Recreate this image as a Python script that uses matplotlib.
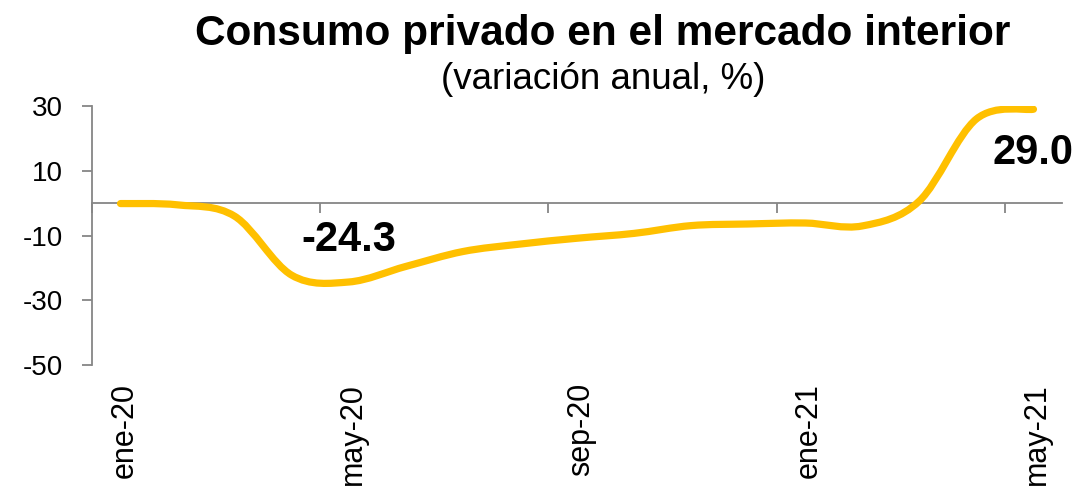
import matplotlib.pyplot as plt
import numpy as np
from matplotlib.path import Path
from matplotlib.patches import PathPatch

plt.rcParams['font.family'] = ['Liberation Sans', 'DejaVu Sans']
plt.rcParams['axes.unicode_minus'] = False

# monthly year-on-year change
meses = ["ene-20", "feb-20", "mar-20", "abr-20", "may-20", "jun-20", "jul-20", "ago-20",
         "sep-20", "oct-20", "nov-20", "dic-20", "ene-21", "feb-21", "mar-21", "abr-21", "may-21"]
consumo = [-0.1, -0.5, -4.0, -22.2, -24.3, -19.5, -14.9, -12.6,
           -10.8, -9.3, -6.9, -6.4, -6.1, -7.0, 0.7, 26.0, 29.0]
yticks = [-50, -30, -10, 10, 30]
label_idx = [4, 16]      # points with a value label
label_off = [42, -44]    # pixels above (+) / below (-) the point

x = np.arange(len(meses))
y = np.array(consumo)

GREY = "#868686"
GOLD = "#FFC000"


def smooth_path(xs, ys):
    # excel-style smoothed line: bezier segments through every point
    pts = np.column_stack([xs, ys])
    n = len(pts)
    verts = [pts[0]]
    codes = [Path.MOVETO]
    for i in range(n - 1):
        p0 = pts[i - 1] if i > 0 else pts[i]
        p1, p2 = pts[i], pts[i + 1]
        p3 = pts[i + 2] if i + 2 < n else pts[i + 1]
        verts += [p1 + (p2 - p0) / 6, p2 - (p3 - p1) / 6, p2]
        codes += [Path.CURVE4] * 3
    return Path(verts, codes)


fig = plt.figure(figsize=(10.79, 4.88), dpi=100)
ax = fig.add_axes([92 / 1079, 1 - 365.3 / 488, (1062 - 92) / 1079, (365.3 - 106) / 488])

ax.add_patch(PathPatch(smooth_path(x, y), facecolor="none", edgecolor=GOLD,
                       linewidth=5.2, capstyle="round", joinstyle="round", zorder=3))

ax.set_xlim(-0.5, len(meses) - 0.5)
ax.set_ylim(-50, 30)

for s in ["top", "right"]:
    ax.spines[s].set_visible(False)
ax.spines["bottom"].set_position(("data", 0))
for s in ["bottom", "left"]:
    ax.spines[s].set_color(GREY)
    ax.spines[s].set_linewidth(1.3)

ax.set_yticks(yticks)
ax.tick_params(axis="y", labelsize=20, length=7, width=1.3, color=GREY, pad=14)

# tick marks sit between categories, every 4 months
ax.set_xticks(np.arange(-0.5, len(meses), 4))
ax.set_xticklabels([])
ax.tick_params(axis="x", length=7, width=1.3, color=GREY, direction="out")

for i in range(0, len(meses), 4):
    ax.text(i + 0.07, -0.068, meses[i], transform=ax.get_xaxis_transform(),
            rotation=90, ha="center", va="top", fontsize=22)

for i, off in zip(label_idx, label_off):
    ax.annotate(f"{consumo[i]:.1f}", (x[i], y[i]), xytext=(0, off * 0.72),
                textcoords="offset points", ha="center", va="center",
                fontsize=30, fontweight="bold", annotation_clip=False)

fig.text(603 / 1079, 1 - 45 / 488, "Consumo privado en el mercado interior",
         ha="center", va="baseline", fontsize=30.5, fontweight="bold")
fig.text(603 / 1079, 1 - 89 / 488, "(variación anual, %)",
         ha="center", va="baseline", fontsize=26.5)

fig.savefig("out.png", dpi=100)
